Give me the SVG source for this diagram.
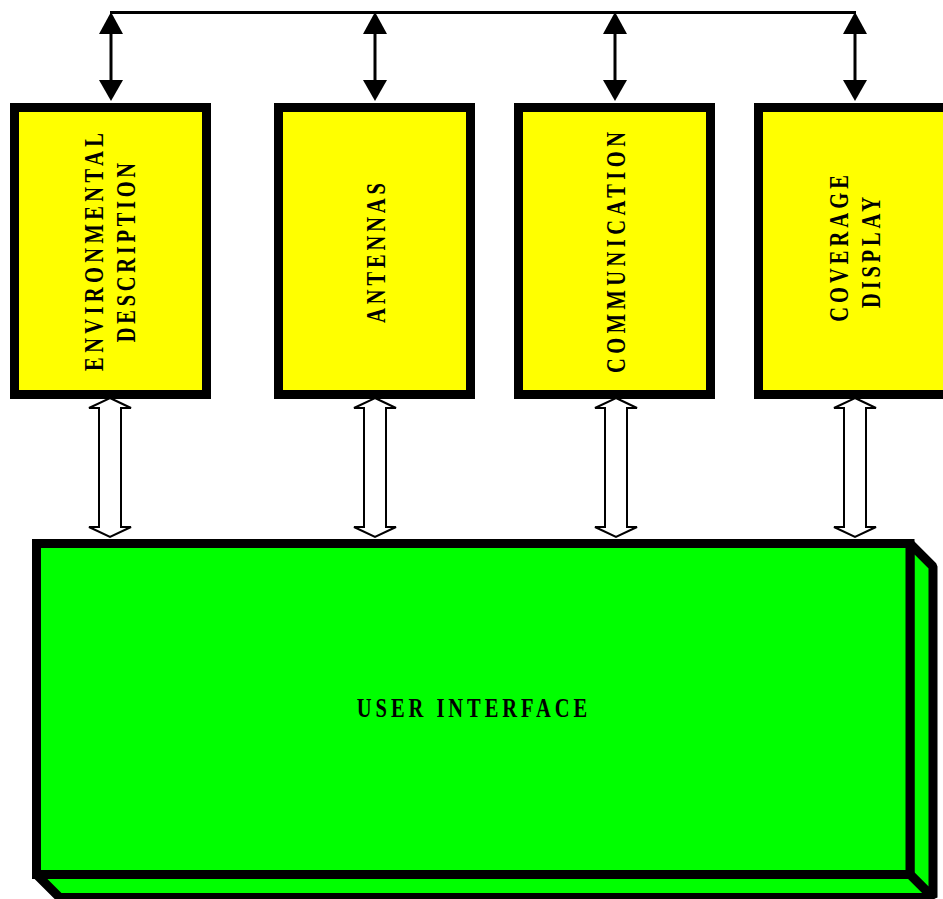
<svg xmlns="http://www.w3.org/2000/svg" width="943" height="899" viewBox="0 0 943 899">
<style>
.box{fill:#ffff00;stroke:#000;stroke-width:9}
.ui{fill:#00ff00;stroke:#000;stroke-width:9;stroke-linejoin:miter}
.uiside{fill:#00ff00;stroke:#000;stroke-width:9;stroke-linejoin:bevel}
.lbl{font-family:"Liberation Serif","Times New Roman",serif;font-weight:bold;font-size:27px;fill:#000}
.line{stroke:#000;stroke-width:3;fill:none}
.head{fill:#000}
.hollow{fill:#fff;stroke:#000;stroke-width:2;stroke-linejoin:miter}
</style>
<rect width="943" height="899" fill="#fff"/>
<g id="connectors">
  <line class="line" x1="110" y1="12.5" x2="856" y2="12.5"/>
  <g id="bus-arrows">
    <line class="line" x1="111" y1="20" x2="111" y2="92"/>
    <polygon class="head" points="111,12 99,34 123,34"/>
    <polygon class="head" points="111,101 99,80 123,80"/>
    <line class="line" x1="375" y1="20" x2="375" y2="92"/>
    <polygon class="head" points="375,12 363,34 387,34"/>
    <polygon class="head" points="375,101 363,80 387,80"/>
    <line class="line" x1="615" y1="20" x2="615" y2="92"/>
    <polygon class="head" points="615,12 603,34 627,34"/>
    <polygon class="head" points="615,101 603,80 627,80"/>
    <line class="line" x1="855" y1="20" x2="855" y2="92"/>
    <polygon class="head" points="855,12 843,34 867,34"/>
    <polygon class="head" points="855,101 843,80 867,80"/>
  </g>
  <g id="ui-arrows">
    <polygon class="hollow" transform="translate(110,0)" points="0,398 21,408 11,408 11,527 21,527 0,537 -21,527 -11,527 -11,408 -21,408"/>
    <polygon class="hollow" transform="translate(375,0)" points="0,398 21,408 11,408 11,527 21,527 0,537 -21,527 -11,527 -11,408 -21,408"/>
    <polygon class="hollow" transform="translate(616,0)" points="0,398 21,408 11,408 11,527 21,527 0,537 -21,527 -11,527 -11,408 -21,408"/>
    <polygon class="hollow" transform="translate(855,0)" points="0,398 21,408 11,408 11,527 21,527 0,537 -21,527 -11,527 -11,408 -21,408"/>
  </g>
</g>
<g id="env">
  <rect class="box" x="14.5" y="107.5" width="192" height="287"/>
  <text class="lbl" text-anchor="middle" textLength="313" lengthAdjust="spacing" transform="translate(103,252) rotate(-90) scale(0.76,1)">ENVIRONMENTAL</text>
  <text class="lbl" text-anchor="middle" textLength="236" lengthAdjust="spacing" transform="translate(135,252.5) rotate(-90) scale(0.76,1)">DESCRIPTION</text>
</g>
<g id="antennas">
  <rect class="box" x="278.5" y="107.5" width="192" height="287"/>
  <text class="lbl" text-anchor="middle" textLength="184" lengthAdjust="spacing" transform="translate(385,253) rotate(-90) scale(0.76,1)">ANTENNAS</text>
</g>
<g id="communication">
  <rect class="box" x="518.5" y="107.5" width="192" height="287"/>
  <text class="lbl" text-anchor="middle" textLength="317" lengthAdjust="spacing" transform="translate(625,252.5) rotate(-90) scale(0.76,1)">COMMUNICATION</text>
</g>
<g id="coverage">
  <rect class="box" x="758.5" y="107.5" width="192" height="287"/>
  <text class="lbl" text-anchor="middle" textLength="193" lengthAdjust="spacing" transform="translate(848,248.5) rotate(-90) scale(0.76,1)">COVERAGE</text>
  <text class="lbl" text-anchor="middle" textLength="146" lengthAdjust="spacing" transform="translate(880,252.5) rotate(-90) scale(0.76,1)">DISPLAY</text>
</g>
<g id="user-interface">
  <polygon class="uiside" points="910,543.5 933,566.5 933,897.5 910,874.5"/>
  <polygon class="uiside" points="36.5,874.5 910,874.5 933,897.5 59.5,897.5"/>
  <rect class="ui" x="36.5" y="543.5" width="873.5" height="331"/>
  <text class="lbl" text-anchor="middle" textLength="303" lengthAdjust="spacing" transform="translate(472,717) scale(0.76,1)">USER INTERFACE</text>
</g>
</svg>
